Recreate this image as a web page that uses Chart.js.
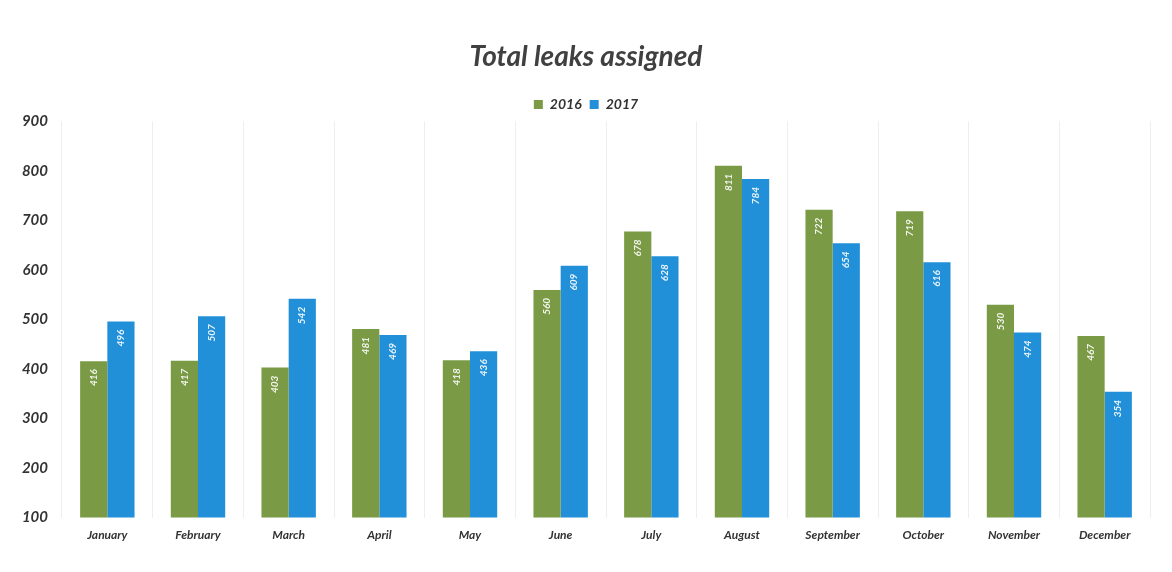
<!DOCTYPE html>
<html>
<head>
<meta charset="utf-8">
<script src="https://cdn.jsdelivr.net/npm/chart.js@4"></script>
<style>
html,body{margin:0;padding:0;background:#fff;}
#wrap{width:1172px;height:572px;position:relative;}
</style>
</head>
<body>
<div id="wrap"><canvas id="c" width="1172" height="572"></canvas></div>
<script>
const categories = ["January","February","March","April","May","June","July","August","September","October","November","December"];
const series2016 = [416, 417, 403, 481, 418, 560, 678, 811, 722, 719, 530, 467];
const series2017 = [496, 507, 542, 469, 436, 609, 628, 784, 654, 616, 474, 354];
const yTicks = [100, 200, 300, 400, 500, 600, 700, 800, 900];

const FONT = "Lato, 'Open Sans', sans-serif";

const barLabels = {
  id: 'barLabels',
  afterDatasetsDraw(chart) {
    const ctx = chart.ctx;
    ctx.save();
    chart.data.datasets.forEach((ds, i) => {
      const meta = chart.getDatasetMeta(i);
      meta.data.forEach((el, j) => {
        ctx.save();
        ctx.translate(el.x, el.y + 8);
        ctx.rotate(-Math.PI / 2);
        ctx.fillStyle = 'rgba(255,255,255,0.9)';
        ctx.font = "bold italic 10px " + FONT;
        ctx.textAlign = 'right';
        ctx.textBaseline = 'middle';
        ctx.fillText(String(ds.data[j]), 0, 0);
        ctx.restore();
      });
    });
    ctx.restore();
  }
};

new Chart(document.getElementById('c'), {
  type: 'bar',
  data: {
    labels: categories,
    datasets: [
      { label: '2016', data: series2016, backgroundColor: '#7a9a45', barPercentage: 1.0, categoryPercentage: 0.6 },
      { label: '2017', data: series2017, backgroundColor: '#2290d8', barPercentage: 1.0, categoryPercentage: 0.6 }
    ]
  },
  options: {
    responsive: false,
    animation: false,
    layout: { padding: { top: 40, left: 22, right: 22, bottom: 20 } },
    plugins: {
      title: {
        display: true,
        text: 'Total leaks assigned',
        color: '#404040',
        font: { family: FONT, size: 28, weight: 'bold', style: 'italic' },
        padding: { top: 0, bottom: 16 }
      },
      legend: {
        display: true,
        labels: {
          color: '#333',
          boxWidth: 9, boxHeight: 9,
          padding: 8,
          font: { family: FONT, size: 14, weight: 'bold', style: 'italic' }
        }
      },
      tooltip: { enabled: false }
    },
    scales: {
      x: {
        grid: { display: true, color: '#eeeeee', drawTicks: false },
        border: { display: false },
        ticks: {
          color: '#333',
          padding: 10,
          maxRotation: 0,
          font: { family: FONT, size: 12, weight: 'bold', style: 'italic' }
        }
      },
      y: {
        min: 100, max: 900,
        afterBuildTicks(scale) { scale.ticks = yTicks.map(v => ({ value: v })); },
        afterFit(scale) { scale.width = 40; },
        grid: { display: false },
        border: { display: false },
        ticks: {
          color: '#333',
          padding: 6,
          font: { family: FONT, size: 15, weight: 'bold', style: 'italic' }
        }
      }
    }
  },
  plugins: [barLabels]
});
</script>
</body>
</html>
